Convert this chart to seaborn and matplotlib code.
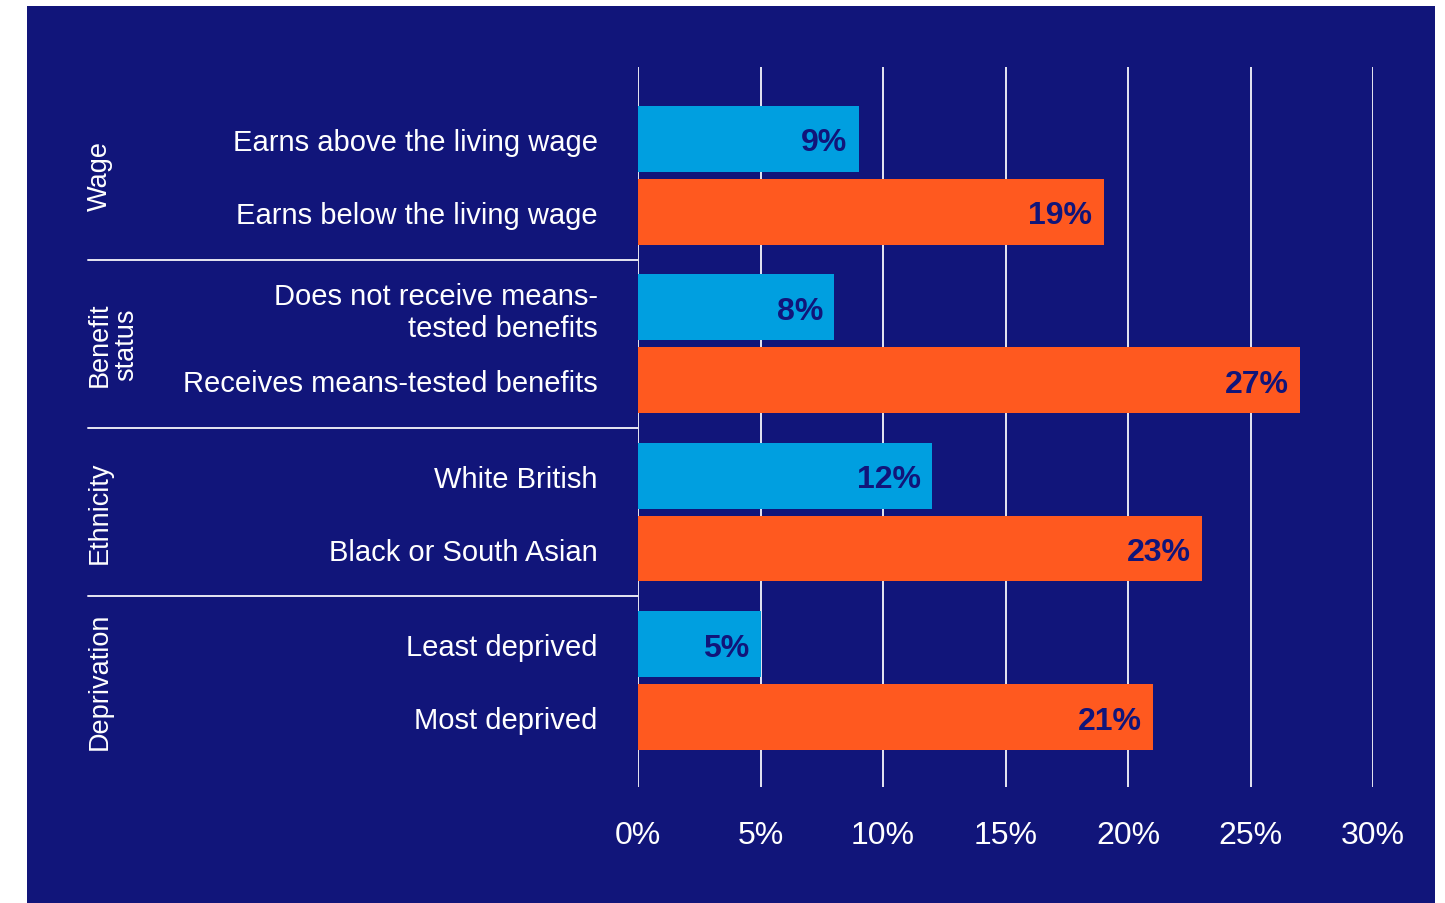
import matplotlib
matplotlib.use("Agg")
import matplotlib.pyplot as plt
import matplotlib.transforms as mtransforms
from matplotlib.patches import Rectangle
import numpy as np
import pandas as pd
import seaborn as sns

# Dados
grupos = ["Wage", "Benefit\nstatus", "Ethnicity", "Deprivation"]
categorias = [
    "Earns above the living wage", "Earns below the living wage",
    "Does not receive means-\ntested benefits", "Receives means-tested benefits",
    "White British", "Black or South Asian",
    "Least deprived", "Most deprived",
]
valores = [9, 19, 8, 27, 12, 23, 5, 21]
tipo = ["baixo", "alto"] * 4
ticks_x = [0, 5, 10, 15, 20, 25, 30]

NAVY = "#11157A"
AZUL = "#009FE0"
LARANJA = "#FF591F"

# posições: dois itens por grupo, com espaço extra entre grupos
G = 2.31
pos = [g * G + i for g in range(4) for i in range(2)]

df = pd.DataFrame({"pos": pos, "valor": valores, "tipo": tipo, "cat": categorias})

sns.set_theme(style="white")
plt.rcParams["font.family"] = ["Liberation Sans", "DejaVu Sans"]

fig = plt.figure(figsize=(14.45, 9.04), dpi=100)
fig.patch.set_facecolor("white")
fig.add_artist(Rectangle((27 / 1445, 0), (1435 - 27) / 1445, 897 / 904,
                         transform=fig.transFigure, facecolor=NAVY, edgecolor="none", zorder=0))

ax = fig.add_axes([638 / 1445, (904 - 788) / 904, 735 / 1445, 720 / 904])
ax.set_facecolor("none")

sns.barplot(data=df, x="valor", y="pos", hue="tipo", orient="y", native_scale=True,
            palette={"baixo": AZUL, "alto": LARANJA}, width=0.9, dodge=False,
            legend=False, saturation=1, linewidth=0, ax=ax)

ax.set_xlim(0, 30)
ax.set_ylim(pos[-1] + 0.96, -0.986)
ax.set_xticks(ticks_x)
ax.set_xticklabels([f"{t}%" for t in ticks_x], color="white", fontsize=23)
ax.set_yticks(pos)
ax.set_yticklabels(categorias, color="white", fontsize=21, linespacing=1.15)
ax.tick_params(axis="x", length=0, pad=24)
ax.tick_params(axis="y", length=0, pad=29)
ax.set_xlabel("")
ax.set_ylabel("")
for s in ax.spines.values():
    s.set_visible(False)

ax.set_axisbelow(True)
ax.grid(axis="x", color="#E6E6F2", linewidth=1.4)

# rótulos de valor dentro das barras
for p, v in zip(pos, valores):
    ax.text(v - 0.45, p, f"{v}%", ha="right", va="center_baseline", color=NAVY,
            fontsize=23, fontweight="bold")

# linhas separadoras e nomes dos grupos
trans = mtransforms.blended_transform_factory(ax.transAxes, ax.transData)
x0 = (88 - 638) / 735
for g in range(1, 4):
    y = (pos[2 * g - 1] + pos[2 * g]) / 2
    ax.plot([x0, 0], [y, y], transform=trans, color="#E6E6F2", linewidth=1.4, clip_on=False)
for g, nome in enumerate(grupos):
    y = (pos[2 * g] + pos[2 * g + 1]) / 2
    xg = (113 - 638) / 735 if "\n" in nome else (100 - 638) / 735
    ax.text(xg, y, nome, transform=trans, rotation=90, ha="center", va="center",
            color="white", fontsize=19.5, linespacing=1.05, multialignment="center")

fig.savefig("out.png", dpi=100, facecolor=fig.get_facecolor())
